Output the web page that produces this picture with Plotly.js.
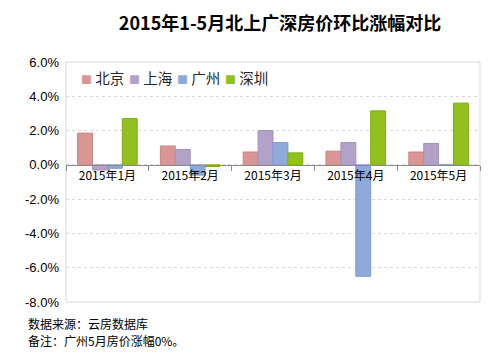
<!DOCTYPE html>
<html><head><meta charset="utf-8">
<script src="https://cdn.plot.ly/plotly-3.0.1.min.js"></script>
<style>html,body{margin:0;padding:0;background:#fff}#chart{width:500px;height:356px}</style>
</head><body><div id="chart"></div>
<script>
const categories = ['2015年1月','2015年2月','2015年3月','2015年4月','2015年5月'];
const seriesNames = ['北京','上海','广州','深圳'];
const beijing  = [1.85, 1.1, 0.75, 0.8, 0.75];
const shanghai = [-0.3, 0.9, 2.0, 1.3, 1.25];
const guangzhou = [-0.2, -0.6, 1.3, -6.5, 0];
const shenzhen = [2.7, -0.1, 0.7, 3.15, 3.6];
const yTickVals = [-8, -6, -4, -2, 0, 2, 4, 6];
const yTickText = ['-8.0%','-6.0%','-4.0%','-2.0%','0.0%','2.0%','4.0%','6.0%'];
const fills = ['#D99694','#B3A2C7','#8EAADB','#92C01F'];
const lines = ['#CC8583','#A390BA','#7C9BD3','#7FB010'];
const values = [beijing, shanghai, guangzhou, shenzhen];

const font = '"Noto Sans CJK SC", "Noto Sans", sans-serif';
const traces = values.map((v, i) => ({
  type: 'bar', x: categories, y: v, name: seriesNames[i],
  marker: {color: fills[i], line: {color: lines[i], width: 1}},
  hoverinfo: 'skip'
}));

const yMin = -8, yMax = 6;
const legendX = [79, 127, 175, 223];
const plotL = 66, plotR = 20, plotT = 62, plotB = 54;
const plotW = 500 - plotL - plotR, plotH = 356 - plotT - plotB;
const px2x = p => (p - plotL) / plotW;
const px2y = p => (356 - plotB - p) / plotH;

const annotations = seriesNames.map((n, i) => ({
  xref: 'paper', yref: 'paper', x: px2x(legendX[i]), y: px2y(77),
  xanchor: 'left', yanchor: 'middle', showarrow: false,
  text: '<span style="color:' + fills[i] + ';font-size:11px">■</span> ' + n,
  font: {family: font, size: 14.5, color: '#262626'}
}));
annotations.push({
  xref: 'paper', yref: 'paper', x: px2x(26), y: px2y(323), xanchor: 'left', yanchor: 'middle',
  showarrow: false, text: '数据来源：云房数据库', font: {family: font, size: 12, color: '#000'}
});
annotations.push({
  xref: 'paper', yref: 'paper', x: px2x(26), y: px2y(340), xanchor: 'left', yanchor: 'middle',
  showarrow: false, text: '备注：广州5月房价涨幅0%。', font: {family: font, size: 12, color: '#000'}
});

const layout = {
  width: 500, height: 356,
  margin: {l: plotL, r: plotR, t: plotT, b: plotB, pad: 0},
  paper_bgcolor: '#fff', plot_bgcolor: '#fff',
  showlegend: false,
  barmode: 'group', bargap: 0.28, bargroupgap: 0,
  title: {text: '<b>2015年1-5月北上广深房价环比涨幅对比</b>', x: 280/500, xanchor: 'center', xref: 'container',
          y: 1 - 24/356, yanchor: 'middle', yref: 'container', font: {family: font, size: 18, color: '#000'}},
  xaxis: {
    type: 'category', anchor: 'free', position: (0 - yMin) / (yMax - yMin),
    showline: true, linecolor: '#8C8C8C', linewidth: 1,
    ticks: 'outside', tickson: 'boundaries', ticklen: 5, tickcolor: '#8C8C8C',
    showgrid: false, zeroline: false,
    tickfont: {family: font, size: 12, color: '#000'}
  },
  yaxis: {
    range: [yMin, yMax], tickvals: yTickVals, ticktext: yTickText,
    showgrid: true, gridcolor: '#D9D9D9', griddash: 'dot', gridwidth: 1,
    zeroline: false, showline: false, ticks: '',
    tickfont: {family: '"Liberation Sans", Arial, sans-serif', size: 13, color: '#000'},
    ticklabelstandoff: 6
  },
  shapes: [{type: 'rect', xref: 'paper', yref: 'paper', x0: 0, x1: 1, y0: 0, y1: 1,
            line: {color: '#D9D9D9', width: 1}, layer: 'below'}],
  annotations: annotations
};
Plotly.newPlot('chart', traces, layout, {staticPlot: true});
</script></body></html>
